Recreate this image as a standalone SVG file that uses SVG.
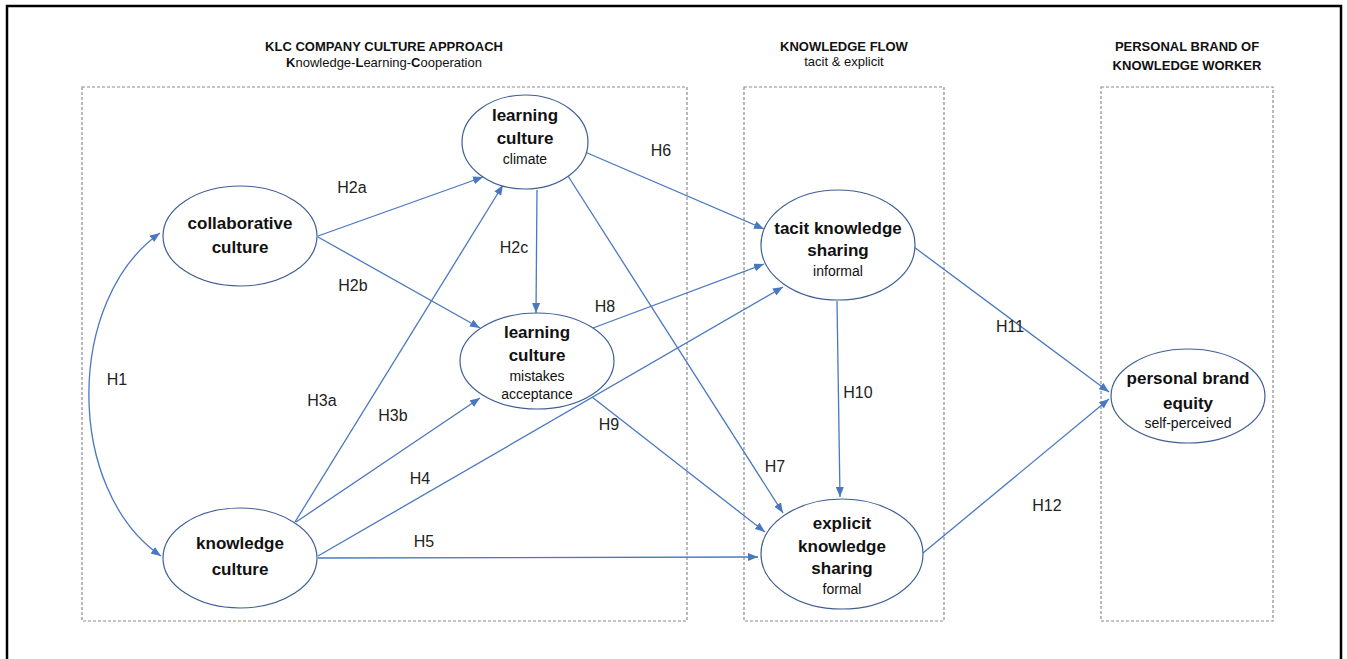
<svg xmlns="http://www.w3.org/2000/svg" width="1347" height="659" viewBox="0 0 1347 659">
<defs>
<style>
.frame{fill:none;stroke:#000;stroke-width:2.5}
.box{fill:none;stroke:#8c8c8c;stroke-width:1.2;stroke-dasharray:3 2}
.node{fill:#fff;stroke:#3f5f94;stroke-width:1.2}
.t{font-family:"Liberation Sans",Arial,sans-serif;font-weight:bold;font-size:17px;fill:#111;text-anchor:middle}
.s{font-family:"Liberation Sans",Arial,sans-serif;font-size:14px;fill:#111;text-anchor:middle}
.h{font-family:"Liberation Sans",Arial,sans-serif;font-weight:bold;font-size:13px;fill:#111;text-anchor:middle}
.hs{font-family:"Liberation Sans",Arial,sans-serif;font-size:13px;fill:#111;text-anchor:middle}
.lbl{font-family:"Liberation Sans",Arial,sans-serif;font-size:16px;fill:#222;text-anchor:middle}
.c{fill:none;stroke:#4a78c0;stroke-width:1.3}
</style>
<marker id="ah" markerUnits="userSpaceOnUse" markerWidth="10" markerHeight="8" refX="10" refY="4" orient="auto-start-reverse">
<path d="M0,0 L10,4 L0,8 z" fill="#4a78c0"/>
</marker>
</defs>
<rect x="0" y="0" width="1347" height="659" fill="#fff"/>
<rect class="frame" x="7" y="6" width="1334" height="670"/>

<g id="headers">
<text class="h" x="384" y="51">KLC COMPANY CULTURE APPROACH</text>
<text class="hs" x="384" y="67"><tspan font-weight="bold">K</tspan>nowledge-<tspan font-weight="bold">L</tspan>earning-<tspan font-weight="bold">C</tspan>ooperation</text>
<text class="h" x="844" y="51">KNOWLEDGE FLOW</text>
<text class="hs" x="844" y="66" font-size="11">tacit &amp; explicit</text>
<text class="h" x="1187" y="51">PERSONAL BRAND OF</text>
<text class="h" x="1187" y="70">KNOWLEDGE WORKER</text>
</g>

<g id="groups">
<rect class="box" x="82" y="87" width="605" height="534"/>
<rect class="box" x="744" y="87" width="200" height="534"/>
<rect class="box" x="1101" y="87" width="172" height="534"/>
</g>

<g id="connectors">
<path class="c" d="M160,233 C65,300 65,490 161,556" marker-start="url(#ah)" marker-end="url(#ah)"/>
<line class="c" x1="318" y1="236" x2="483" y2="177" marker-end="url(#ah)"/>
<line class="c" x1="318" y1="237" x2="480" y2="328" marker-end="url(#ah)"/>
<line class="c" x1="537" y1="190" x2="536" y2="313" marker-end="url(#ah)"/>
<line class="c" x1="295" y1="522" x2="503" y2="185" marker-end="url(#ah)"/>
<line class="c" x1="296" y1="522" x2="480" y2="398" marker-end="url(#ah)"/>
<line class="c" x1="318" y1="556" x2="783" y2="287" marker-end="url(#ah)"/>
<line class="c" x1="318" y1="558" x2="758" y2="557" marker-end="url(#ah)"/>
<line class="c" x1="585" y1="152" x2="764" y2="229" marker-end="url(#ah)"/>
<line class="c" x1="568" y1="176" x2="783" y2="513" marker-end="url(#ah)"/>
<line class="c" x1="593" y1="328" x2="764" y2="264" marker-end="url(#ah)"/>
<line class="c" x1="592" y1="397" x2="765" y2="532" marker-end="url(#ah)"/>
<line class="c" x1="837" y1="301" x2="840" y2="497" marker-end="url(#ah)"/>
<line class="c" x1="914" y1="247" x2="1109" y2="392" marker-end="url(#ah)"/>
<line class="c" x1="923" y1="553" x2="1109" y2="399" marker-end="url(#ah)"/>
</g>

<g id="labels">
<text class="lbl" x="117" y="385">H1</text>
<text class="lbl" x="352" y="193">H2a</text>
<text class="lbl" x="353" y="291">H2b</text>
<text class="lbl" x="514" y="253">H2c</text>
<text class="lbl" x="322" y="406">H3a</text>
<text class="lbl" x="393" y="421">H3b</text>
<text class="lbl" x="420" y="484">H4</text>
<text class="lbl" x="424" y="547">H5</text>
<text class="lbl" x="661" y="156">H6</text>
<text class="lbl" x="775" y="472">H7</text>
<text class="lbl" x="605" y="312">H8</text>
<text class="lbl" x="609" y="430">H9</text>
<text class="lbl" x="858" y="398">H10</text>
<text class="lbl" x="1010" y="332">H11</text>
<text class="lbl" x="1047" y="511">H12</text>
</g>

<g id="learning-climate">
<ellipse class="node" cx="525" cy="142" rx="63" ry="47"/>
<text class="t" x="525" y="121">learning</text>
<text class="t" x="525" y="144">culture</text>
<text class="s" x="525" y="164">climate</text>
</g>
<g id="collaborative">
<ellipse class="node" cx="240" cy="236" rx="77" ry="50"/>
<text class="t" x="240" y="229">collaborative</text>
<text class="t" x="240" y="253">culture</text>
</g>
<g id="learning-mistakes">
<ellipse class="node" cx="537" cy="361" rx="77" ry="48"/>
<text class="t" x="537" y="338">learning</text>
<text class="t" x="537" y="361">culture</text>
<text class="s" x="537" y="381">mistakes</text>
<text class="s" x="537" y="399">acceptance</text>
</g>
<g id="knowledge-culture">
<ellipse class="node" cx="240" cy="558" rx="77" ry="50"/>
<text class="t" x="240" y="549">knowledge</text>
<text class="t" x="240" y="575">culture</text>
</g>
<g id="tacit">
<ellipse class="node" cx="838" cy="245" rx="77" ry="55"/>
<text class="t" x="838" y="234">tacit knowledge</text>
<text class="t" x="838" y="256">sharing</text>
<text class="s" x="838" y="276">informal</text>
</g>
<g id="explicit">
<ellipse class="node" cx="842" cy="554" rx="81" ry="55"/>
<text class="t" x="842" y="529">explicit</text>
<text class="t" x="842" y="552">knowledge</text>
<text class="t" x="842" y="574">sharing</text>
<text class="s" x="842" y="594">formal</text>
</g>
<g id="personal-brand">
<ellipse class="node" cx="1188" cy="396" rx="77" ry="47"/>
<text class="t" x="1188" y="384">personal brand</text>
<text class="t" x="1188" y="409">equity</text>
<text class="s" x="1188" y="428">self-perceived</text>
</g>
</svg>
